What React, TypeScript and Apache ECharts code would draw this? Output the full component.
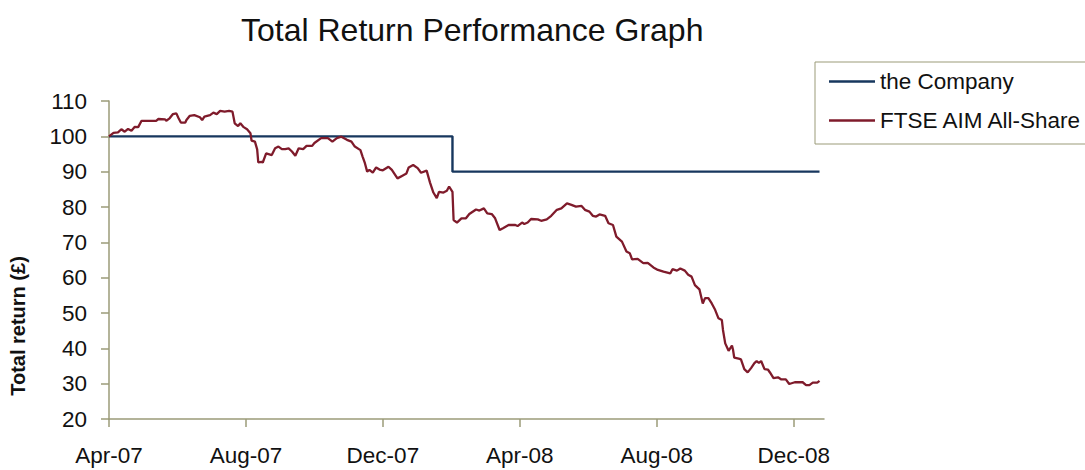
import React, { useEffect, useRef } from "react";
import * as echarts from "echarts";

const xTickLabels = ["Apr-07", "Aug-07", "Dec-07", "Apr-08", "Aug-08", "Dec-08"];
const yTicks = [20, 30, 40, 50, 60, 70, 80, 90, 100, 110];

const companyDates = ["2007-04-01", "2008-02-01", "2008-02-01", "2008-12-24"];
const companyValues = [100, 100, 90, 90];

const ftseDates = [
  "2007-04-01", "2007-04-05", "2007-04-09", "2007-04-12", "2007-04-15", "2007-04-18", "2007-04-21", "2007-04-24", "2007-04-27", "2007-04-30",
  "2007-05-13", "2007-05-15", "2007-05-21", "2007-05-22", "2007-05-25", "2007-05-28", "2007-05-31",
  "2007-06-02", "2007-06-04", "2007-06-08", "2007-06-09", "2007-06-12", "2007-06-16", "2007-06-21", "2007-06-23", "2007-06-25", "2007-06-30",
  "2007-07-03", "2007-07-06", "2007-07-09", "2007-07-13", "2007-07-17", "2007-07-20", "2007-07-22", "2007-07-25", "2007-07-27", "2007-07-30",
  "2007-08-02", "2007-08-05", "2007-08-06", "2007-08-09", "2007-08-11", "2007-08-12", "2007-08-15", "2007-08-16", "2007-08-19", "2007-08-24", "2007-08-27", "2007-08-30",
  "2007-09-02", "2007-09-05", "2007-09-08", "2007-09-11", "2007-09-14", "2007-09-17", "2007-09-21", "2007-09-24", "2007-09-29",
  "2007-10-01", "2007-10-07", "2007-10-13", "2007-10-17", "2007-10-21", "2007-10-25", "2007-10-30",
  "2007-11-03", "2007-11-06", "2007-11-11", "2007-11-13", "2007-11-15", "2007-11-17", "2007-11-19", "2007-11-22", "2007-11-25", "2007-11-28",
  "2007-12-01", "2007-12-06", "2007-12-09", "2007-12-14", "2007-12-18", "2007-12-22", "2007-12-24", "2007-12-28",
  "2008-01-01", "2008-01-04", "2008-01-09", "2008-01-12", "2008-01-15", "2008-01-18", "2008-01-20", "2008-01-24", "2008-01-27", "2008-01-29",
  "2008-02-01", "2008-02-02", "2008-02-05", "2008-02-09", "2008-02-13", "2008-02-16", "2008-02-22", "2008-02-25", "2008-02-29",
  "2008-03-03", "2008-03-07", "2008-03-10", "2008-03-14", "2008-03-17", "2008-03-22", "2008-03-28", "2008-03-30",
  "2008-04-03", "2008-04-05", "2008-04-08", "2008-04-11", "2008-04-17", "2008-04-20", "2008-04-25", "2008-04-29",
  "2008-05-04", "2008-05-08", "2008-05-13", "2008-05-17", "2008-05-21", "2008-05-26", "2008-05-29",
  "2008-06-02", "2008-06-05", "2008-06-08", "2008-06-11", "2008-06-16", "2008-06-19", "2008-06-23", "2008-06-26",
  "2008-07-01", "2008-07-05", "2008-07-08", "2008-07-10", "2008-07-15", "2008-07-20", "2008-07-24", "2008-07-29",
  "2008-08-02", "2008-08-07", "2008-08-13", "2008-08-15", "2008-08-19", "2008-08-22", "2008-08-26", "2008-08-29",
  "2008-09-01", "2008-09-04", "2008-09-08", "2008-09-11", "2008-09-13", "2008-09-16", "2008-09-19", "2008-09-22", "2008-09-25", "2008-09-28", "2008-09-29",
  "2008-10-01", "2008-10-03", "2008-10-04", "2008-10-07", "2008-10-08", "2008-10-09", "2008-10-13", "2008-10-15", "2008-10-18", "2008-10-21", "2008-10-24", "2008-10-27", "2008-10-29", "2008-10-31",
  "2008-11-02", "2008-11-05", "2008-11-08", "2008-11-10", "2008-11-13", "2008-11-17", "2008-11-20", "2008-11-24", "2008-11-27",
  "2008-12-02", "2008-12-09", "2008-12-12", "2008-12-15", "2008-12-18", "2008-12-22", "2008-12-24",
];

const ftseValues = [
  100.0, 101.0, 101.1, 102.0, 101.3, 102.1, 101.6, 102.7, 102.6, 104.4,
  104.4, 104.9, 104.8, 104.4, 105.1, 106.3, 106.5,
  105.1, 103.9, 103.9, 104.6, 105.8, 106.0, 105.4, 104.6, 105.6, 106.0,
  106.7, 106.3, 107.2, 107.0, 107.2, 107.0, 103.7, 102.9, 103.7, 102.6,
  102.0, 100.9, 98.8, 98.5, 96.3, 92.6, 92.8, 92.6, 95.2, 94.7, 96.6, 97.1,
  96.4, 96.4, 96.6, 95.7, 94.5, 96.6, 96.4, 97.3, 97.3,
  98.1, 99.5, 99.5, 98.5, 99.5, 99.9, 99.0,
  98.5, 97.1, 96.1, 94.2, 92.4, 90.0, 90.5, 89.7, 91.2, 90.6,
  90.4, 91.4, 90.5, 88.1, 88.8, 89.5, 91.2, 91.9,
  91.0, 89.7, 90.3, 86.9, 84.1, 82.5, 84.3, 84.1, 84.6, 85.8,
  84.3, 76.3, 75.6, 76.8, 76.8, 78.0, 79.3, 79.0, 79.6,
  78.2, 78.0, 76.8, 73.5, 74.0, 74.9, 74.9, 74.6,
  75.6, 75.2, 75.6, 76.6, 76.5, 76.1, 76.5, 77.5,
  79.2, 79.6, 81.0, 80.6, 80.1, 80.3, 79.2,
  78.7, 77.5, 77.3, 77.9, 77.5, 75.4, 74.9, 71.6,
  70.2, 67.4, 66.9, 65.2, 65.3, 64.1, 64.2, 62.9,
  62.2, 61.7, 61.2, 62.4, 62.0, 62.6, 62.0, 60.8,
  60.3, 57.9, 56.7, 52.7, 54.2, 54.2, 52.7, 50.9, 48.5, 48.0, 45.2,
  41.4, 40.0, 39.3, 40.8, 39.5, 37.4, 37.1, 36.9, 34.1, 33.2, 34.4, 35.8, 36.4, 35.9,
  36.4, 34.1, 34.0, 33.1, 31.6, 31.8, 31.2, 31.2, 29.9,
  30.4, 30.4, 29.6, 29.6, 30.3, 30.3, 30.8,
];

const START = Date.UTC(2007, 3, 1);
const DAY = 86400000;
const toDay = (s: string) => {
  const [y, m, d] = s.split("-").map(Number);
  return Math.round((Date.UTC(y, m - 1, d) - START) / DAY);
};

const FONT = "'Liberation Sans', Arial, sans-serif";
const AXIS_COLOR = "#9b9b78";
const BLUE = "#17375e";
const RED = "#7f1b2b";

export default function App() {
  const ref = useRef<HTMLDivElement>(null);
  useEffect(() => {
    if (!ref.current) return;
    const chart = echarts.init(ref.current, undefined, { renderer: "svg" });
    chart.setOption({
      animation: false,
      backgroundColor: "#ffffff",
      textStyle: { fontFamily: FONT },
      title: {
        text: "Total Return Performance Graph",
        left: 236,
        top: 9,
        textStyle: { fontFamily: FONT, fontSize: 32, fontWeight: "normal", color: "#111" },
      },
      legend: {
        orient: "vertical",
        left: 815,
        top: 62,
        padding: [8, 80, 12, 14],
        itemGap: 16,
        itemWidth: 46,
        itemHeight: 2.5,
        icon: "rect",
        borderColor: AXIS_COLOR,
        borderWidth: 1,
        textStyle: { fontFamily: FONT, fontSize: 22.5, color: "#111", lineHeight: 20 },
        data: ["the Company", "FTSE AIM All-Share"],
      },
      graphic: [
        {
          type: "text",
          x: 18,
          y: 326,
          rotation: Math.PI / 2,
          style: {
            text: "Total return (£)",
            font: "bold 20px 'Liberation Sans', Arial, sans-serif",
            fill: "#111",
            textAlign: "center",
            textVerticalAlign: "middle",
          },
        },
      ],
      grid: { left: 109, top: 101, width: 715, height: 318, containLabel: false },
      xAxis: {
        type: "value",
        min: 0,
        max: 637,
        interval: 122,
        axisLine: { show: true, lineStyle: { color: AXIS_COLOR, width: 1.5 } },
        axisTick: { show: true, length: 8, lineStyle: { color: AXIS_COLOR, width: 1.5 } },
        splitLine: { show: false },
        axisLabel: {
          margin: 25,
          fontFamily: FONT,
          fontSize: 22.5,
          color: "#111",
          showMaxLabel: false,
          formatter: (v: number) => xTickLabels[Math.round(v / 122)] ?? "",
        },
      },
      yAxis: {
        type: "value",
        min: yTicks[0],
        max: yTicks[yTicks.length - 1],
        interval: 10,
        axisLine: { show: true, lineStyle: { color: AXIS_COLOR, width: 1.5 } },
        axisTick: { show: true, length: 8, lineStyle: { color: AXIS_COLOR, width: 1.5 } },
        splitLine: { show: false },
        axisLabel: { margin: 22, fontFamily: FONT, fontSize: 22.5, color: "#111" },
      },
      series: [
        {
          name: "the Company",
          type: "line",
          symbol: "none",
          color: BLUE,
          itemStyle: { color: BLUE },
          lineStyle: { color: BLUE, width: 2.4 },
          data: companyDates.map((d, i) => [toDay(d), companyValues[i]]),
          z: 2,
        },
        {
          name: "FTSE AIM All-Share",
          type: "line",
          symbol: "none",
          color: RED,
          itemStyle: { color: RED },
          lineStyle: { color: RED, width: 2.3 },
          data: ftseDates.map((d, i) => [toDay(d), ftseValues[i]]),
          z: 3,
        },
      ],
    });
    return () => chart.dispose();
  }, []);
  return (
    <div
      ref={ref}
      style={{ position: "fixed", left: 0, top: 0, width: 1085, height: 470, background: "#fff" }}
    />
  );
}
